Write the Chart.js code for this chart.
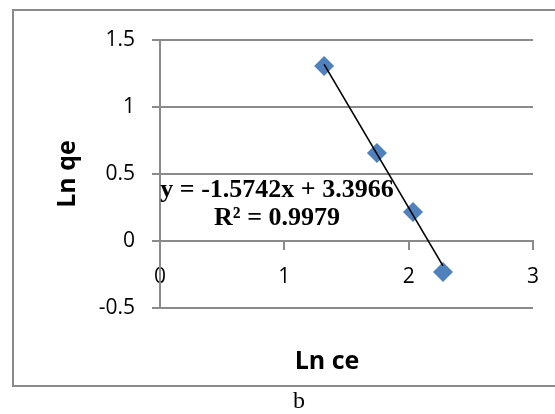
<!DOCTYPE html>
<html>
<head>
<meta charset="utf-8">
<script src="https://cdn.jsdelivr.net/npm/chart.js@4/dist/chart.umd.min.js"></script>
<style>
  body { margin: 0; background: #fff; }
  canvas { display: block; }
</style>
</head>
<body>
<canvas id="myChart" width="555" height="414"></canvas>
<script>
let lnCe = [1.32, 1.745, 2.035, 2.276];
let lnQe = [1.306, 0.657, 0.216, -0.231];
let slope = -1.5742;
let intercept = 3.3966;
let eqLabel = 'y = -1.5742x + 3.3966';
let r2Label = 'R\u00b2 = 0.9979';
let xTitle = 'Ln ce';
let yTitle = 'Ln qe';
let caption = 'b';

let points = lnCe.map((x, i) => ({ x: x, y: lnQe[i] }));
let xMin = Math.min(...lnCe), xMax = Math.max(...lnCe);
let trend = [xMin, xMax].map(x => ({ x: x, y: slope * x + intercept }));

let gridGrey = '#8a8a8a';
let tickFont = { family: 'Open Sans', size: 21 };

// extra text: frame, axis titles, trendline label, caption
let decor = {
  id: 'decor',
  beforeDraw(chart) {
    let c = chart.ctx;
    c.save();
    c.fillStyle = '#fff';
    c.fillRect(0, 0, chart.width, chart.height);
    c.strokeStyle = gridGrey;
    c.lineWidth = 2;
    c.strokeRect(13, 10, 560, 376);
    c.restore();
  },
  beforeDatasetsDraw(chart) {
    let c = chart.ctx;
    c.save();
    c.fillStyle = '#000';
    c.textAlign = 'center';
    c.textBaseline = 'middle';
    c.font = 'bold 26px "Liberation Serif"';
    c.fillText(eqLabel, 277, 190);
    c.fillText(r2Label, 277, 218);
    c.restore();
  },
  afterDraw(chart) {
    let c = chart.ctx;
    c.save();
    c.fillStyle = '#000';
    c.textAlign = 'center';
    c.textBaseline = 'middle';
    c.font = 'bold 25px "Open Sans"';
    c.fillText(xTitle, 327, 362);
    c.translate(68, 174);
    c.rotate(-Math.PI / 2);
    c.fillText(yTitle, 0, 0);
    c.restore();
    c.save();
    c.fillStyle = '#000';
    c.textAlign = 'center';
    c.textBaseline = 'middle';
    c.font = '24px "Liberation Serif"';
    c.fillText(caption, 299, 402);
    c.restore();
  }
};

let ctx = document.getElementById('myChart').getContext('2d');
let myChart = new Chart(ctx, {
  type: 'scatter',
  data: {
    datasets: [{
      data: trend,
      showLine: true,
      borderColor: '#000',
      borderWidth: 1.6,
      pointRadius: 0,
      order: 0
    }, {
      data: points,
      pointStyle: 'rectRot',
      pointRadius: 10,
      pointHoverRadius: 10,
      backgroundColor: '#4F81BD',
      borderColor: '#4F81BD',
      borderWidth: 0,
      order: 1
    }]
  },
  options: {
    responsive: false,
    animation: false,
    layout: {
      padding: { left: 0, top: 40, right: 22, bottom: 106 }
    },
    plugins: {
      legend: { display: false },
      tooltip: { enabled: false }
    },
    scales: {
      x: {
        type: 'linear',
        position: { y: 0 },
        min: 0,
        max: 3,
        ticks: { stepSize: 1, font: tickFont, color: '#000', padding: 15, callback: (v) => String(v) },
        grid: { drawOnChartArea: false, color: gridGrey, lineWidth: 2, tickLength: 8 },
        border: { color: gridGrey, width: 2 }
      },
      y: {
        type: 'linear',
        min: -0.5,
        max: 1.5,
        ticks: { stepSize: 0.5, font: tickFont, color: '#000', padding: 17, callback: (v) => String(v) },
        grid: { color: gridGrey, lineWidth: 2, tickLength: 8 },
        border: { color: gridGrey, width: 2 },
        afterFit: (scale) => { scale.width = 160; }
      }
    }
  },
  plugins: [decor]
});
</script>
</body>
</html>
